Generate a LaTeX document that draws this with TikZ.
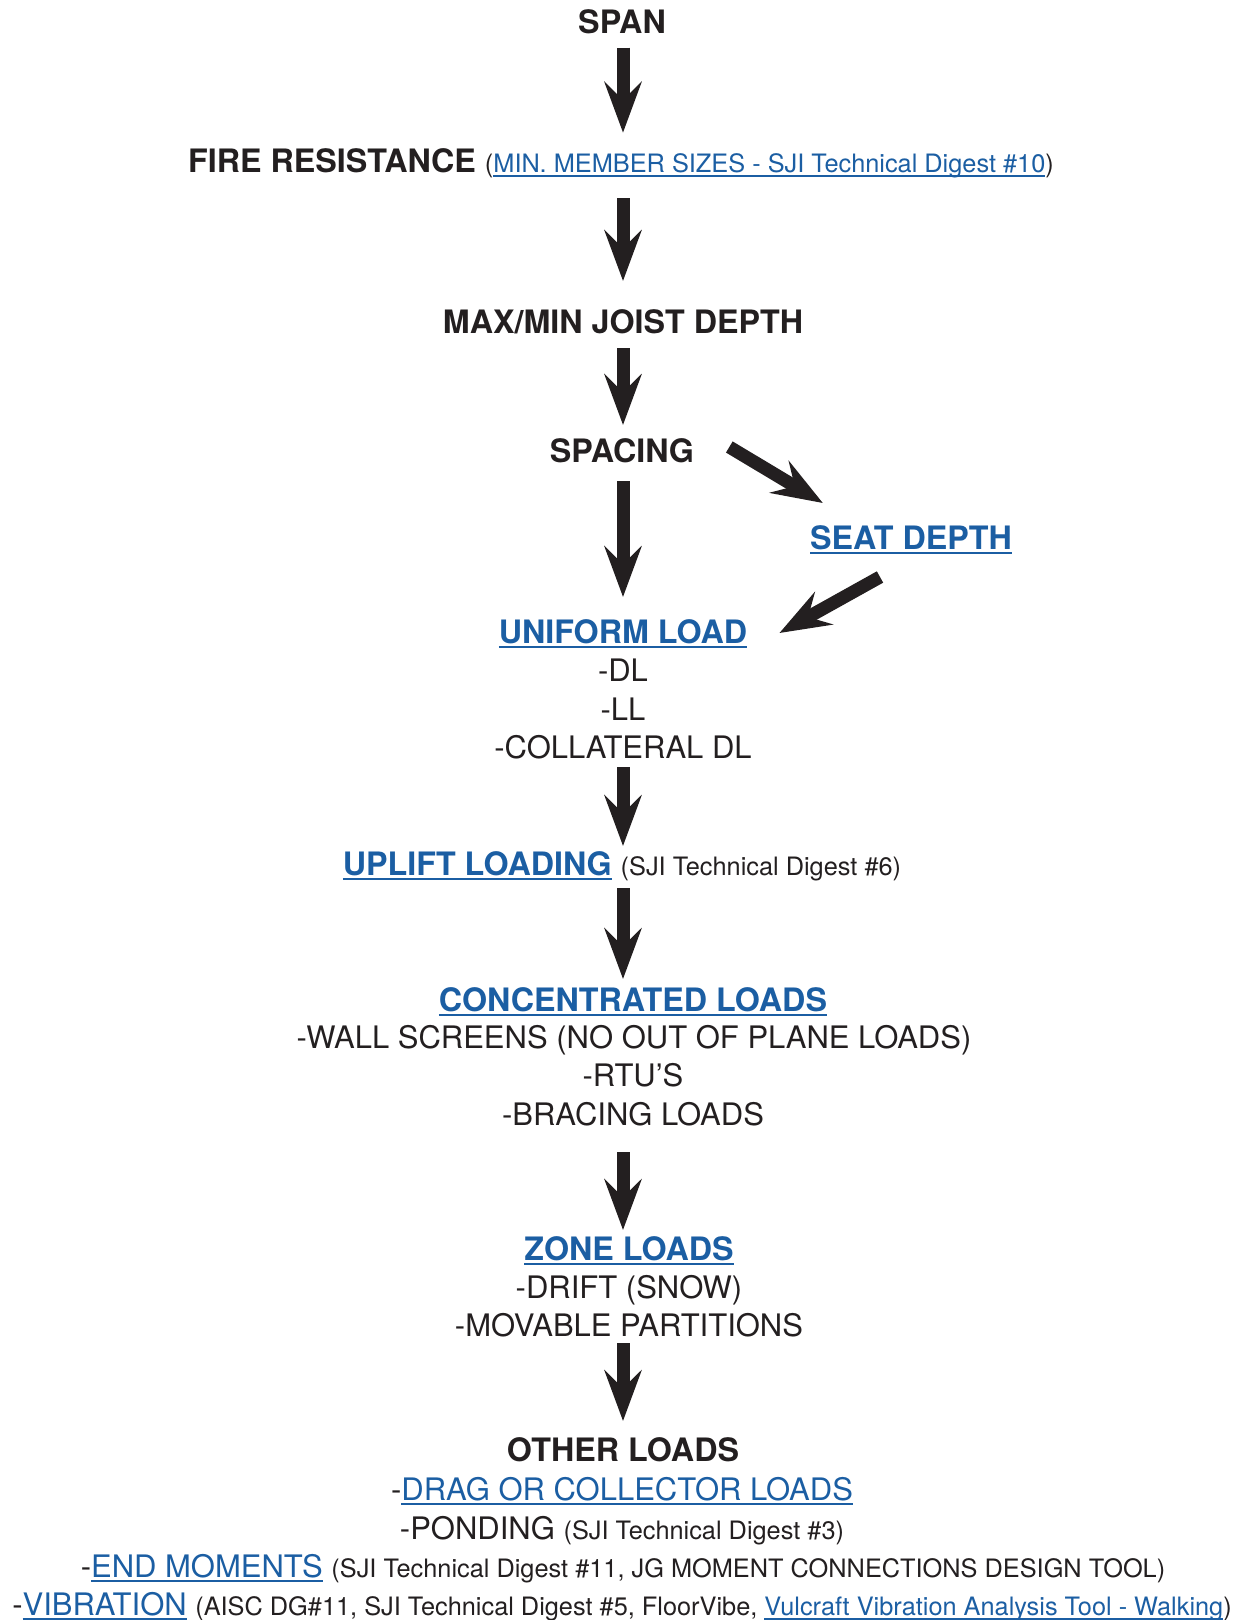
\documentclass[tikz,border=0pt]{standalone}
\usepackage{fontspec}
\setmainfont{TeX Gyre Heros}
\usepackage{xcolor}
\usepackage{tikz}
\usetikzlibrary{arrows.meta}
\usetikzlibrary{calc}

\definecolor{dark}{RGB}{35,31,32}
\definecolor{linkblue}{RGB}{27,94,163}
\newcommand{\hdfont}{\fontsize{24.2pt}{28.9pt}\selectfont\bfseries}
\newcommand{\rgfont}{\fontsize{23.25pt}{28.9pt}\selectfont}
\newcommand{\smfont}{\fontsize{19pt}{23pt}\selectfont}
\newcommand{\linkul}[1]{{\color{linkblue}\setbox0\hbox{#1}\rlap{\rule[-3.6pt]{\wd0}{1.4pt}}\box0}}

\begin{document}
\begin{tikzpicture}[x=0.75pt,y=0.75pt,yscale=-1,xscale=1,
  txt/.style={anchor=base, inner sep=0pt, text=dark},
  fat/.style={draw=dark, line width=9.75pt, -{Stealth[length=38pt, width=27.75pt, inset=13.5pt]}}]
%set diagram left start at 0, and has height of 1620
\path[use as bounding box] (0,0) rectangle (1245,1620);
\coordinate (spine) at (623,0);

% Text Node
\draw (622,34) node (span) [txt] {\hdfont SPAN};
% Text Node
\draw (621,172) node (fire) [txt] {{\hdfont FIRE RESISTANCE }{\smfont (\linkul{MIN. MEMBER SIZES - SJI Technical Digest \#10})}};
% Text Node
\draw (623,333) node (maxmin) [txt] {\hdfont MAX/MIN JOIST DEPTH};
% Text Node
\draw (622,462) node (spacing) [txt] {\hdfont SPACING};
% Text Node
\draw (911,549) node (seat) [txt] {\hdfont\linkul{SEAT DEPTH}};
% Text Node
\draw (623,643) node (uniform) [txt] {\hdfont\linkul{UNIFORM LOAD}};
\draw (623,681) node (dl) [txt] {\rgfont -DL};
\draw (623,720) node (ll) [txt] {\rgfont -LL};
\draw (623,758) node (coll) [txt] {\rgfont -COLLATERAL DL};
% Text Node
\draw (622,875) node (uplift) [txt] {{\hdfont\linkul{UPLIFT LOADING} }{\smfont (SJI Technical Digest \#6)}};
% Text Node
\draw (633,1011) node (conc) [txt] {\hdfont\linkul{CONCENTRATED LOADS}};
\draw (634,1048) node (wall) [txt] {\rgfont -WALL SCREENS (NO OUT OF PLANE LOADS)};
\draw (633,1086) node (rtu) [txt] {\rgfont -RTU’S};
\draw (633,1125) node (brac) [txt] {\rgfont -BRACING LOADS};
% Text Node
\draw (629,1260) node (zone) [txt] {\hdfont\linkul{ZONE LOADS}};
\draw (629,1298) node (drift) [txt] {\rgfont -DRIFT (SNOW)};
\draw (629,1336) node (movable) [txt] {\rgfont -MOVABLE PARTITIONS};
% Text Node
\draw (623,1461) node (other) [txt] {\hdfont OTHER LOADS};
\draw (622,1500) node (drag) [txt] {\rgfont -\linkul{DRAG OR COLLECTOR LOADS}};
\draw (622,1539) node (pond) [txt] {{\rgfont -PONDING }{\smfont (SJI Technical Digest \#3)}};
\draw (623,1577) node (endm) [txt] {{\rgfont -\linkul{END MOMENTS} }{\smfont (SJI Technical Digest \#11, JG MOMENT CONNECTIONS DESIGN TOOL)}};
\draw (622,1615) node (vib) [txt] {{\rgfont -\linkul{VIBRATION} }{\smfont (AISC DG\#11, SJI Technical Digest \#5, FloorVibe, \linkul{Vulcraft Vibration Analysis Tool - Walking})}};

%Straight Lines
\draw [fat, shorten <=10.3pt, shorten >=29.5pt] (span.base -| spine) -- (fire.base -| spine);
\draw [fat, shorten <=19.5pt, shorten >=39pt] (fire.base -| spine) -- (maxmin.base -| spine);
\draw [fat, shorten <=11.25pt, shorten >=27.75pt] (maxmin.base -| spine) -- (spacing.base -| spine);
\draw [fat, shorten <=14.25pt, shorten >=34.5pt] (spacing.base -| spine) -- (uniform.base -| spine);
\draw [fat, shorten <=6.75pt, shorten >=21.75pt] (coll.base -| spine) -- (uplift.base -| spine);
\draw [fat, shorten <=9.75pt, shorten >=24pt] (uplift.base -| spine) -- (conc.base -| spine);
\draw [fat, shorten <=20.25pt, shorten >=22.5pt] (brac.base -| spine) -- (zone.base -| spine);
\draw [fat, shorten <=5.25pt, shorten >=30pt] (movable.base -| spine) -- (other.base -| spine);
%Slanted Lines
\draw [fat] ($(spacing.base east)+(35,-15)$) -- ($(seat.base west)+(13,-46)$);
\draw [fat] ($(seat.base)+(-31,28)$) -- ($(uniform.base east)+(32,-10)$);

\end{tikzpicture}
\end{document}
